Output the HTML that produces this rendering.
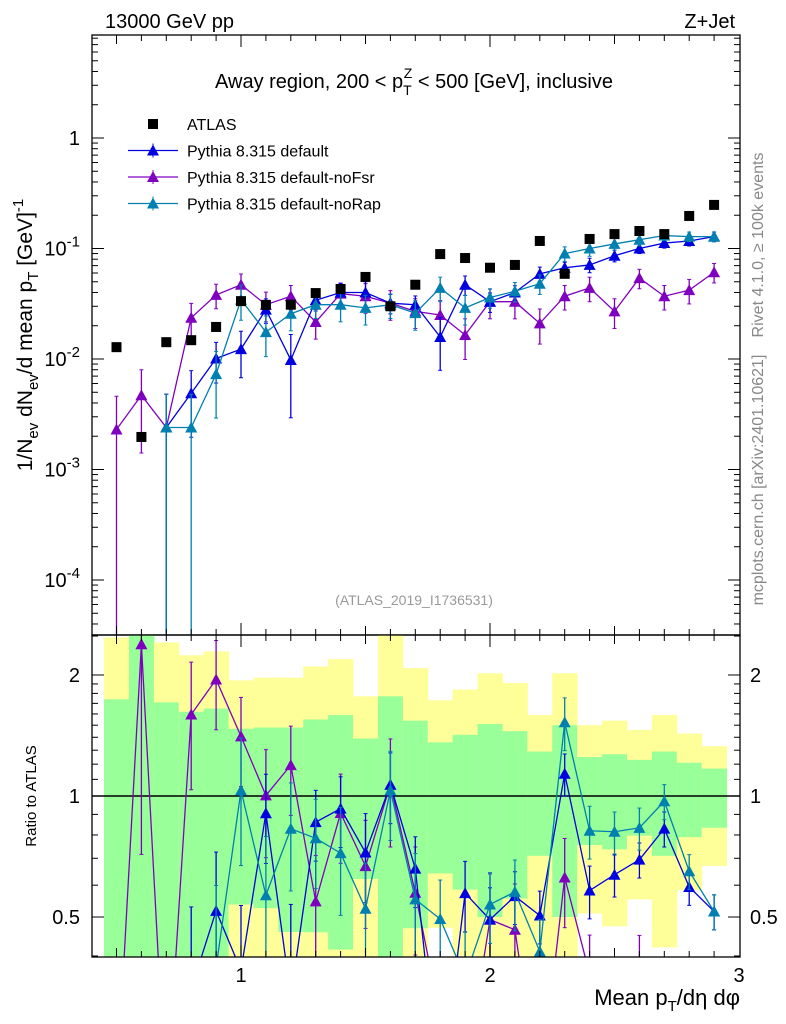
<!DOCTYPE html>
<html><head><meta charset="utf-8"><style>
html,body{margin:0;padding:0;background:#fff;overflow:hidden;width:786px;height:1024px;}
svg{display:block;overflow:hidden;font-family:"Liberation Sans","DejaVu Sans",sans-serif;}
</style></head><body>
<svg id="chart" width="786" height="1024" viewBox="0 0 786 1024" xmlns="http://www.w3.org/2000/svg">
<text x="105" y="28" font-size="20">13000 GeV pp</text>
<text x="735" y="28" font-size="20" text-anchor="end">Z+Jet</text>
<text x="414" y="88" font-size="20" text-anchor="middle">Away region, 200 &lt; p<tspan font-size="14" dy="7">T</tspan><tspan font-size="14" dx="-8" dy="-17">Z</tspan><tspan dy="10"> &lt; 500 [GeV], inclusive</tspan></text>
<text x="414" y="605" font-size="14" fill="#999" text-anchor="middle">(ATLAS_2019_I1736531)</text>
<text transform="translate(763,245) rotate(-90)" font-size="16" fill="#888" text-anchor="middle">Rivet 4.1.0, ≥ 100k events</text>
<text transform="translate(763,480) rotate(-90)" font-size="16" fill="#888" text-anchor="middle">mcplots.cern.ch [arXiv:2401.10621]</text>
<text transform="translate(32,335) rotate(-90)" font-size="21" text-anchor="middle">1/N<tspan font-size="15" dy="6">ev</tspan><tspan dy="-6"> dN</tspan><tspan font-size="15" dy="6">ev</tspan><tspan dy="-6">/d mean p</tspan><tspan font-size="15" dy="6">T</tspan><tspan dy="-6"> [GeV]</tspan><tspan font-size="15" dy="-9">-1</tspan></text>
<text transform="translate(36,796) rotate(-90)" font-size="15" text-anchor="middle">Ratio to ATLAS</text>
<text x="740" y="1005" font-size="22" text-anchor="end">Mean p<tspan font-size="15" dy="6">T</tspan><tspan dy="-6">/dη dφ</tspan></text>
<g id="main"></g>
<g id="ratio"></g>
<g id="legend"></g>
</svg>
<script>
const xCenters=[0.5,0.6,0.7,0.8,0.9,1.0,1.1,1.2,1.3,1.4,1.5,1.6,1.7,1.8,1.9,2.0,2.1,2.2,2.3,2.4,2.5,2.6,2.7,2.8,2.9];
const atlas=[0.0128,0.00197,0.0142,0.0148,0.0195,0.0334,0.0309,0.031,0.0395,0.043,0.0553,0.030,0.047,0.089,0.082,0.067,0.071,0.117,0.059,0.122,0.135,0.144,0.135,0.197,0.248];
const pyDefault=[null,null,0.0024,0.0049,0.0101,0.0123,0.028,0.0098,0.034,0.040,0.040,0.032,0.031,0.0158,0.047,0.033,0.040,0.059,0.067,0.071,0.086,0.10,0.112,0.117,0.128];
const pyNoFsr=[0.0023,0.0047,0.0024,0.0236,0.038,0.047,0.031,0.037,0.0216,0.039,0.037,0.032,0.027,0.025,0.0165,0.033,0.033,0.021,0.037,0.044,0.027,0.054,0.037,0.042,0.061];
const pyNoRap=[null,null,0.0024,0.0024,0.0073,0.0345,0.0175,0.0257,0.031,0.031,0.029,0.031,0.026,0.044,0.029,0.036,0.041,0.048,0.090,0.100,0.110,0.12,0.131,0.128,0.128];
const errDefault=[0,0,1.0,0.6,0.4,0.45,0.25,0.7,0.2,0.2,0.25,0.2,0.2,0.5,0.2,0.2,0.15,0.15,0.12,0.15,0.12,0.1,0.1,0.1,0.1];
const errNoFsr=[1.0,0.7,1.0,0.35,0.25,0.25,0.3,0.25,0.3,0.25,0.3,0.3,0.3,0.35,0.4,0.3,0.3,0.35,0.25,0.25,0.3,0.2,0.25,0.25,0.2];
const errNoRap=[0,0,1.0,1.0,0.6,0.35,0.4,0.3,0.25,0.3,0.3,0.25,0.3,0.25,0.3,0.2,0.2,0.2,0.15,0.15,0.12,0.12,0.1,0.1,0.1];
const yellowHi=[2.48,2.6,2.41,2.24,2.29,1.94,1.97,1.97,2.10,2.19,1.77,2.6,2.08,1.73,1.84,2.02,1.91,1.59,2.02,1.50,1.54,1.46,1.59,1.43,1.33];
const greenHi=[1.74,2.6,1.71,1.62,1.65,1.47,1.48,1.48,1.55,1.59,1.39,1.77,1.54,1.36,1.42,1.51,1.45,1.29,1.50,1.25,1.27,1.23,1.29,1.21,1.17];
const greenLo=[0.3,0.3,0.3,0.3,0.3,0.537,0.526,0.459,0.458,0.415,0.622,0.3,0.469,0.642,0.585,0.50,0.556,0.71,0.50,0.755,0.737,0.797,0.71,0.79,0.834];
const yellowLo=[0.3,0.3,0.3,0.3,0.3,0.3,0.3,0.3,0.3,0.3,0.3,0.3,0.3,0.47,0.40,0.3,0.3,0.3,0.3,0.51,0.474,0.553,0.42,0.583,0.67];
const xTickLabels=[1,2,3];
const mainTickLabels=[1,0.1,0.01,0.001,0.0001];
const mainTickText=["1","10^-1","10^-2","10^-3","10^-4"];
const ratioTickLabels=[0.5,1,2];

const NS="http://www.w3.org/2000/svg";
const L=92,R=740,MT=35,MB=635,RB=957;
const X=v=>241+(v-1)*249;
const Y=v=>138-Math.log10(v)*110.5;
const RY=v=>796-Math.log10(v)*402;
function mk(parent,tag,attrs){const e=document.createElementNS(NS,tag);for(const k in attrs)e.setAttribute(k,attrs[k]);parent.appendChild(e);return e;}
const svg=document.getElementById('chart');
const defs=mk(svg,'defs',{});
const cp1=mk(defs,'clipPath',{id:'cm'});mk(cp1,'rect',{x:L,y:MT,width:R-L,height:MB-MT});
const cp2=mk(defs,'clipPath',{id:'cr'});mk(cp2,'rect',{x:L,y:MB,width:R-L,height:RB-MB});
const main=document.getElementById('main'),ratio=document.getElementById('ratio');
const mainC=mk(main,'g',{'clip-path':'url(#cm)'});
const ratC=mk(ratio,'g',{'clip-path':'url(#cr)'});
const YMAX=RB+3;
// clip a polyline at y=YMAX, returning list of segments
function clipSegs(pts){const segs=[];for(let i=0;i<pts.length-1;i++){let [x1,y1]=pts[i],[x2,y2]=pts[i+1];
 if(y1>YMAX&&y2>YMAX)continue;
 if(y1>YMAX){const t=(YMAX-y2)/(y1-y2);x1=x2+(x1-x2)*t;y1=YMAX;}
 if(y2>YMAX){const t=(YMAX-y1)/(y2-y1);x2=x1+(x2-x1)*t;y2=YMAX;}
 segs.push(`M${x1} ${y1}L${x2} ${y2}`);}return segs.join('');}

xCenters.forEach((x,i)=>{
 const y=mk(ratC,'rect',{x:X(x-0.05),width:X(x+0.05)-X(x-0.05)+0.5,y:RY(yellowHi[i]),height:Math.min(RY(yellowLo[i]),YMAX)-RY(yellowHi[i]),fill:'#ffff99'});
 
 
 const g=mk(ratC,'rect',{x:X(x-0.05),width:X(x+0.05)-X(x-0.05)+0.5,y:RY(greenHi[i]),height:Math.min(RY(greenLo[i]),YMAX)-RY(greenHi[i]),fill:'#99ff99'});
 
 
});
mk(ratC,'line',{x1:L,x2:R,y1:RY(1),y2:RY(1),stroke:'#000','stroke-width':1.5});

function tri(p,x,y,c){return mk(p,'path',{d:`M${x} ${y-6}L${x+6} ${y+5}L${x-6} ${y+5}Z`,fill:c});}
const series=[
 {vals:pyNoFsr,err:errNoFsr,c:'#8000c0',n:'pythia-default-nofsr'},
 {vals:pyDefault,err:errDefault,c:'#0000e0',n:'pythia-default'},
 {vals:pyNoRap,err:errNoRap,c:'#0080b0',n:'pythia-default-norap'}
];
series.forEach(s=>{
 let pts=[];
 s.vals.forEach((v,i)=>{if(v!=null)pts.push([X(xCenters[i]),Y(v)]);});
 const pl=mk(mainC,'polyline',{points:pts.map(p=>p.join(',')).join(' '),fill:'none',stroke:s.c,'stroke-width':1.3});
 
 
 s.vals.forEach((v,i)=>{
  if(v==null)return;
  const x=X(xCenters[i]);const lo=v*(1-s.err[i]);const hi=v*(1+s.err[i]);
  mk(mainC,'line',{x1:x,x2:x,y1:Y(hi),y2:lo>0?Math.min(Y(lo),MB):MB,stroke:s.c,'stroke-width':1.3});
  mk(mainC,'line',{x1:x-2,x2:x+2,y1:Y(hi),y2:Y(hi),stroke:s.c});
  if(lo>0&&Y(lo)<MB)mk(mainC,'line',{x1:x-2,x2:x+2,y1:Y(lo),y2:Y(lo),stroke:s.c});
  const m=tri(mainC,x,Y(v),s.c);
  
  
 });
 let rp=[];
 s.vals.forEach((v,i)=>{const r=(v==null?0.05:v/atlas[i]);rp.push([X(xCenters[i]),RY(r)]);});
 const rl=mk(ratC,'path',{d:clipSegs(rp),fill:'none',stroke:s.c,'stroke-width':1.3});
 
 
 s.vals.forEach((v,i)=>{
  if(v==null)return;
  const r=v/atlas[i];const x=X(xCenters[i]);const hi=r*(1+s.err[i]);const lo=r*(1-s.err[i]);
  if(RY(hi)>YMAX)return;
  mk(ratC,'line',{x1:x,x2:x,y1:RY(hi),y2:lo>0?Math.min(RY(lo),YMAX):YMAX,stroke:s.c,'stroke-width':1.3});
  mk(ratC,'line',{x1:x-2,x2:x+2,y1:RY(hi),y2:RY(hi),stroke:s.c});
  if(lo>0&&RY(lo)<YMAX)mk(ratC,'line',{x1:x-2,x2:x+2,y1:RY(lo),y2:RY(lo),stroke:s.c});
  if(RY(r)<YMAX){const m=tri(ratC,x,RY(r),s.c);
  
  }
 });
});
atlas.forEach((v,i)=>{
 const r=mk(mainC,'rect',{x:X(xCenters[i])-5,y:Y(v)-5,width:10,height:10,fill:'#000'});
 
 
});

mk(main,'rect',{x:L,y:MT,width:R-L,height:MB-MT,fill:'none',stroke:'#000','stroke-width':1.3});
mk(ratio,'rect',{x:L,y:MB,width:R-L,height:RB-MB,fill:'none',stroke:'#000','stroke-width':1.3});

for(let k=5;k<=29;k++){const v=k/10;const x=X(v);const big=(k%10==0);const len=big?12:(k%5==0?9:6);
 [[MT,1],[MB,-1],[MB,1],[RB,-1]].forEach(([y,d])=>mk(svg,'line',{x1:x,x2:x,y1:y,y2:y+d*len,stroke:'#000'}));}
xTickLabels.forEach(v=>{const t=mk(svg,'text',{x:X(v),y:982,'font-size':20,'text-anchor':'middle'});t.textContent=v;
 
 });

for(let e=-5;e<=0;e++){for(let m=1;m<=9;m++){const v=m*Math.pow(10,e);const y=Y(v);if(y<MT||y>MB)continue;const len=m==1?12:6;
 mk(svg,'line',{x1:L,x2:L+len,y1:y,y2:y,stroke:'#000'});mk(svg,'line',{x1:R,x2:R-len,y1:y,y2:y,stroke:'#000'});}}
mainTickLabels.forEach((v,i)=>{const t=mk(svg,'text',{x:80,y:Y(v)+7,'font-size':20,'text-anchor':'end'});
 
 
 const s=mainTickText[i];if(s.indexOf('^')<0){t.textContent=s;}else{const p=s.split('^');t.textContent=p[0];const ts=mk(t,'tspan',{dy:-9,'font-size':15});ts.textContent=p[1];}});

for(let v=0.4;v<=2.51;v+=(v<1.95?0.1:0.5)){const y=RY(v);if(y<MB||y>RB)continue;const big=[0.5,1,2].some(q=>Math.abs(q-v)<1e-6);const len=big?12:6;
 mk(svg,'line',{x1:L,x2:L+len,y1:y,y2:y,stroke:'#000'});mk(svg,'line',{x1:R,x2:R-len,y1:y,y2:y,stroke:'#000'});}
ratioTickLabels.forEach(v=>{[[80,'end'],[750,'start']].forEach(([x,a])=>{const t=mk(svg,'text',{x:x,y:RY(v)+7,'font-size':20,'text-anchor':a});t.textContent=v;
 
 });});

const lg=document.getElementById('legend');
mk(lg,'rect',{x:148,y:119,width:10,height:10,fill:'#000'});
const entries=[['ATLAS',null],['Pythia 8.315 default','#0000e0'],['Pythia 8.315 default-noFsr','#8000c0'],['Pythia 8.315 default-noRap','#0080b0']];
entries.forEach((e,i)=>{const y=124+i*26.5;
 if(e[1]){mk(lg,'line',{x1:128,x2:178,y1:y,y2:y,stroke:e[1],'stroke-width':1.3});mk(lg,'line',{x1:153,x2:153,y1:y-7,y2:y+7,stroke:e[1]});tri(lg,153,y,e[1]);}
 const t=mk(lg,'text',{x:187,y:y+6,'font-size':16});t.textContent=e[0];
 
 });
</script>
</body></html>
